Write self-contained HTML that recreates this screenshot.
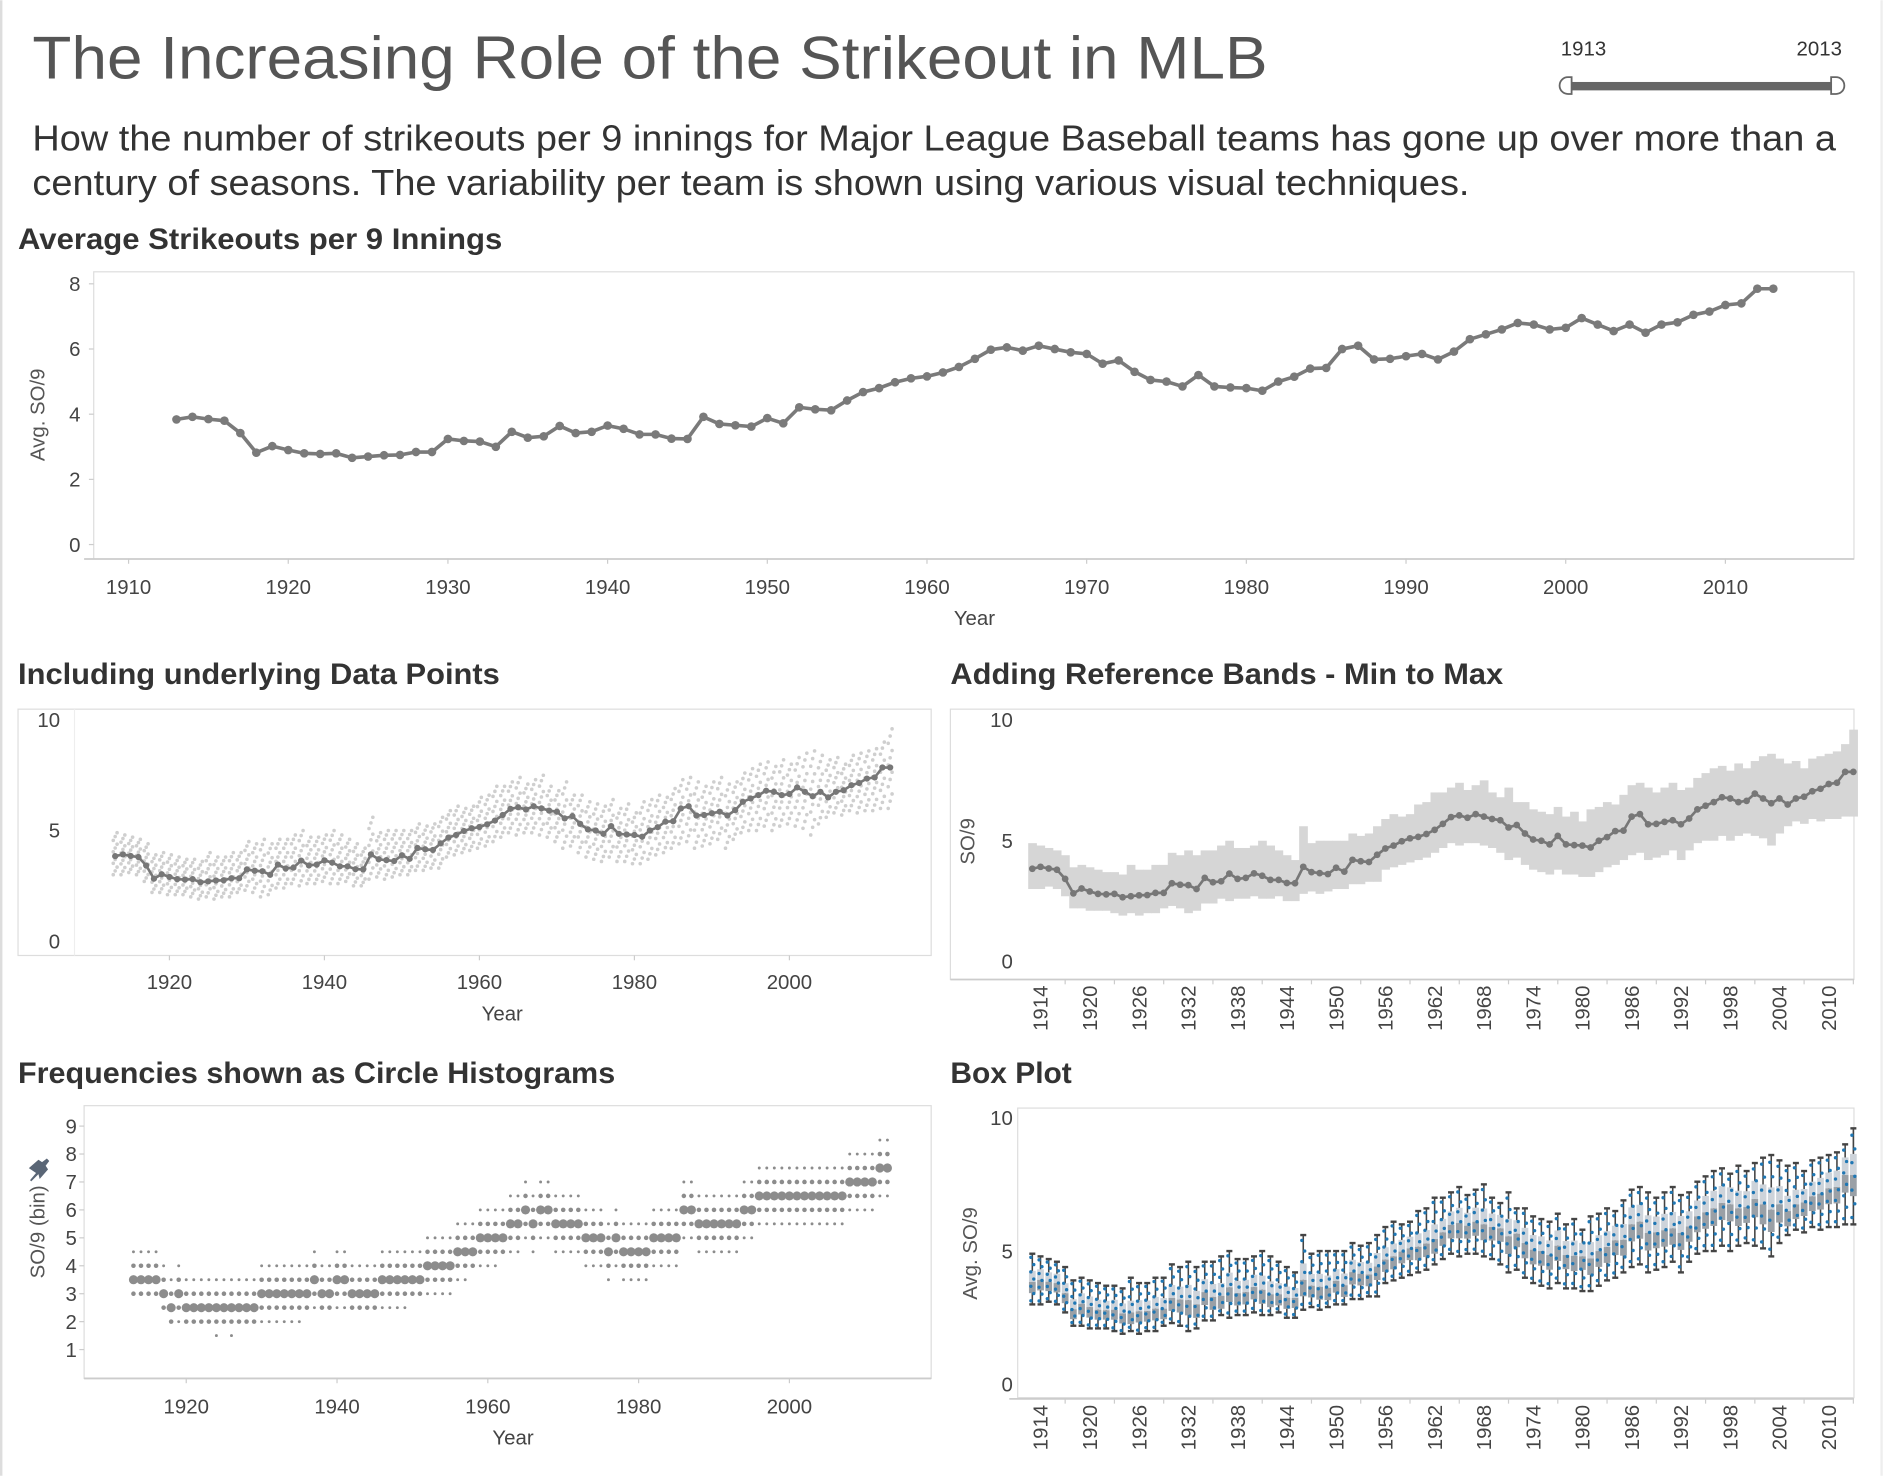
<!DOCTYPE html>
<html><head><meta charset="utf-8"><style>
html,body{margin:0;padding:0;background:#fff;}
svg{display:block;font-family:"Liberation Sans",sans-serif;}
</style></head><body>
<svg id="root" width="1884" height="1476" viewBox="0 0 1568 1228" xmlns="http://www.w3.org/2000/svg">
<line x1="1" y1="0" x2="1" y2="1228" stroke="#ddd" stroke-width="2"/>
<line x1="1566" y1="0" x2="1566" y2="1228" stroke="#eee" stroke-width="2"/>
<text x="27" y="65" font-size="50" fill="#555" textLength="1028" lengthAdjust="spacingAndGlyphs">The Increasing Role of the Strikeout in MLB</text>
<text x="27" y="125" font-size="30" fill="#333" textLength="1501" lengthAdjust="spacingAndGlyphs">How the number of strikeouts per 9 innings for Major League Baseball teams has gone up over more than a</text>
<text x="27" y="162" font-size="30" fill="#333" textLength="1196" lengthAdjust="spacingAndGlyphs">century of seasons. The variability per team is shown using various visual techniques.</text>
<g>
<text x="1299" y="46" font-size="17" fill="#333">1913</text>
<text x="1533" y="46" font-size="17" fill="#333" text-anchor="end">2013</text>
<rect x="1308" y="68" width="216" height="7" fill="#666"/>
<path d="M1308,64 L1305,64 A7,7 0 0 0 1305,78 L1308,78 Z" fill="#fff" stroke="#666" stroke-width="1.5"/>
<path d="M1524,64 L1528,64 A7,7 0 0 1 1528,78 L1524,78 Z" fill="#fff" stroke="#666" stroke-width="1.5"/>
</g>
<g font-weight="bold" font-size="25" fill="#333">
<text x="15" y="207" textLength="403" lengthAdjust="spacingAndGlyphs">Average Strikeouts per 9 Innings</text>
<text x="15" y="569" textLength="401" lengthAdjust="spacingAndGlyphs">Including underlying Data Points</text>
<text x="791" y="569" textLength="460" lengthAdjust="spacingAndGlyphs">Adding Reference Bands - Min to Max</text>
<text x="15" y="901" textLength="497" lengthAdjust="spacingAndGlyphs">Frequencies shown as Circle Histograms</text>
<text x="791" y="901" textLength="101" lengthAdjust="spacingAndGlyphs">Box Plot</text>
</g>
<g id="c1"></g>
<g id="c2"></g>
<g id="c3"></g>
<g id="c4"></g>
<g id="c5"></g>
<path d="M24,972 l8,-7 l3,2 l4,-3 l2,2 l-3,4 l2,3 l-7,8 l-1,-4 l-6,6 l-1,-1 l5,-6 z" fill="#5a6676"/>
</svg>
<script>
const years = [];
for (let y = 1913; y <= 2013; y++) years.push(y);
const avgSO9 = [3.84,3.92,3.85,3.8,3.42,2.82,3.02,2.9,2.8,2.78,2.8,2.66,2.7,2.74,2.75,2.84,2.84,3.24,3.18,3.16,3.0,3.46,3.28,3.32,3.64,3.42,3.46,3.65,3.55,3.38,3.38,3.25,3.24,3.92,3.7,3.66,3.62,3.88,3.72,4.21,4.15,4.12,4.42,4.68,4.8,4.98,5.1,5.16,5.28,5.45,5.7,5.98,6.05,5.95,6.1,6.0,5.9,5.85,5.55,5.65,5.3,5.05,5.0,4.85,5.2,4.85,4.82,4.8,4.72,5.0,5.15,5.4,5.42,6.0,6.1,5.68,5.7,5.78,5.85,5.68,5.92,6.3,6.45,6.6,6.8,6.75,6.6,6.65,6.95,6.75,6.55,6.75,6.5,6.75,6.82,7.05,7.15,7.35,7.4,7.85,7.85];
const maxSO9 = [4.9,4.8,4.7,4.6,4.4,3.9,4.0,3.9,3.8,3.7,3.7,3.6,4.0,3.8,3.8,4.0,4.0,4.5,4.4,4.6,4.4,4.6,4.6,4.8,5.0,4.7,4.7,4.8,5.0,4.8,4.6,4.4,4.2,5.6,4.9,5.0,5.0,5.0,5.0,5.3,5.2,5.3,5.6,5.9,6.1,6.0,6.1,6.5,6.6,7.0,7.0,7.2,7.4,7.1,7.3,7.5,7.0,6.8,7.2,6.6,6.6,6.3,6.2,6.1,6.4,6.0,6.2,5.8,6.3,6.4,6.6,6.5,6.9,7.3,7.4,7.2,7.0,7.2,7.4,7.1,7.2,7.6,7.8,8.0,8.1,7.9,8.2,8.0,8.3,8.5,8.6,8.4,8.2,8.3,8.0,8.4,8.5,8.6,8.7,9.0,9.6];
const minSO9 = [3.0,3.0,3.1,3.0,2.7,2.2,2.2,2.1,2.1,2.1,2.0,1.9,2.0,1.9,2.0,2.0,2.2,2.3,2.2,2.0,2.1,2.4,2.4,2.6,2.5,2.6,2.6,2.7,2.6,2.6,2.7,2.5,2.5,2.8,2.9,2.8,2.9,3.0,3.0,3.2,3.2,3.3,3.3,3.8,3.9,4.0,4.1,4.2,4.3,4.5,4.7,4.9,4.8,4.9,4.9,4.8,4.7,4.5,4.2,4.3,4.0,3.8,3.7,3.6,3.8,3.6,3.6,3.5,3.5,3.7,3.9,4.0,4.2,4.4,4.5,4.2,4.3,4.4,4.6,4.2,4.6,4.9,5.0,5.0,5.2,5.0,5.2,5.3,5.2,5.1,4.8,5.3,5.6,5.8,5.7,5.9,5.8,5.9,5.9,6.0,6.0];
const decadeTicks = [1910,1920,1930,1940,1950,1960,1970,1980,1990,2000,2010];
const twentyTicks = [1920,1940,1960,1980,2000];
const sixTicks = [1914,1920,1926,1932,1938,1944,1950,1956,1962,1968,1974,1980,1986,1992,1998,2004,2010];
const avgYTicks = [0,2,4,6,8];
const tenYTicks = [0,5,10];
const binYTicks = [1,2,3,4,5,6,7,8,9];

const NS = "http://www.w3.org/2000/svg";
function mk(parent, tag, attrs, text) {
  const el = document.createElementNS(NS, tag);
  for (const k in attrs) el.setAttribute(k, attrs[k]);
  if (text !== undefined) el.textContent = text;
  parent.appendChild(el);
  return el;
}
function lin(d0, d1, r0, r1) { return v => r0 + (v - d0) * (r1 - r0) / (d1 - d0); }
const TXT = "#444";

/* ---------- Chart 1: average line ---------- */
(function(){
  const g = document.getElementById('c1');
  const x = lin(1910, 2010, 107, 1436), y = lin(0, 8, 453, 236);
  let r = mk(g, 'rect', {x:78, y:226, width:1465, height:239, fill:'none', stroke:'#ddd'});
  
  
  let ax = mk(g, 'line', {x1:70, y1:465, x2:1543, y2:465, stroke:'#ccc', 'stroke-width':1.5});
  
  
  decadeTicks.forEach(t => {
    mk(g, 'line', {x1:x(t), y1:465, x2:x(t), y2:469, stroke:'#ccc'});
    const tl = mk(g, 'text', {x:x(t), y:494, 'font-size':17, fill:TXT, 'text-anchor':'middle'}, t);
    
    
  });
  avgYTicks.forEach(t => {
    mk(g, 'line', {x1:74, y1:y(t), x2:78, y2:y(t), stroke:'#ccc'});
    const tl = mk(g, 'text', {x:67, y:y(t)+6, 'font-size':17, fill:TXT, 'text-anchor':'end'}, t);
    
    
  });
  const xt = mk(g, 'text', {x:811, y:520, 'font-size':17, fill:TXT, 'text-anchor':'middle'}, 'Year');
  
  
  const yt = mk(g, 'text', {x:0, y:0, 'font-size':17, fill:'#555', 'text-anchor':'middle', transform:'translate(37,345) rotate(-90)'}, 'Avg. SO/9');
  
  
  const pts = years.map((yr,i) => x(yr).toFixed(1)+','+y(avgSO9[i]).toFixed(1)).join(' ');
  const pl = mk(g, 'polyline', {points:pts, fill:'none', stroke:'#7a7a7a', 'stroke-width':3});
  
  
  years.forEach((yr,i) => {
    const c = mk(g, 'circle', {cx:x(yr), cy:y(avgSO9[i]), r:3.6, fill:'#7a7a7a'});
    
    
  });
})();

/* ---------- Chart 2: underlying points ---------- */
(function(){
  const g = document.getElementById('c2');
  const x = lin(1920, 2000, 141, 657), y = lin(0, 10, 783, 599);
  let r = mk(g, 'rect', {x:15, y:590, width:760, height:205, fill:'none', stroke:'#ddd'});
  
  
  mk(g, 'line', {x1:62, y1:590, x2:62, y2:795, stroke:'#eee'});
  twentyTicks.forEach(t => {
    mk(g, 'line', {x1:x(t), y1:795, x2:x(t), y2:799, stroke:'#ccc'});
    const tl = mk(g, 'text', {x:x(t), y:823, 'font-size':17, fill:TXT, 'text-anchor':'middle'}, t);
    
    
  });
  tenYTicks.forEach(t => {
    const tl = mk(g, 'text', {x:50, y:y(t)+6, 'font-size':17, fill:TXT, 'text-anchor':'end'}, t);
    
    
  });
  const xt = mk(g, 'text', {x:418, y:849, 'font-size':17, fill:TXT, 'text-anchor':'middle'}, 'Year');
  
  
  const N = 12;
  years.forEach((yr,i) => {
    for (let k = 0; k < N; k++) {
      const v = minSO9[i] + (maxSO9[i]-minSO9[i]) * k/(N-1);
      const c = mk(g, 'circle', {cx:x(yr) + ((k*7)%3-1)*1.6, cy:y(v), r:1.5, fill:'#cfcfcf'});
      
      
    }
  });
  const pts = years.map((yr,i) => x(yr).toFixed(1)+','+y(avgSO9[i]).toFixed(1)).join(' ');
  const pl = mk(g, 'polyline', {points:pts, fill:'none', stroke:'#777', 'stroke-width':2.2});
  
  
  years.forEach((yr,i) => {
    const c = mk(g, 'circle', {cx:x(yr), cy:y(avgSO9[i]), r:2.6, fill:'#777'});
    
    
  });
})();

/* ---------- Chart 3: reference bands ---------- */
(function(){
  const g = document.getElementById('c3');
  const x = lin(1914, 2010, 866, 1522), y = lin(0, 10, 800, 599);
  const w = (1522-866)/96;
  let r = mk(g, 'rect', {x:791, y:590, width:752, height:225, fill:'none', stroke:'#ddd'});
  
  
  mk(g, 'line', {x1:791, y1:815, x2:1543, y2:815, stroke:'#ccc', 'stroke-width':1.5});
  years.forEach((yr,i) => {
    const b = mk(g, 'rect', {x:x(yr)-w/2, y:y(maxSO9[i]), width:w+0.4, height:y(minSO9[i])-y(maxSO9[i]), fill:'#d6d6d6'});
    
    
  });
  sixTicks.forEach(t => {
    mk(g, 'line', {x1:x(t)+3*w, y1:815, x2:x(t)+3*w, y2:819, stroke:'#ccc'});
    const tl = mk(g, 'text', {x:0, y:0, 'font-size':17, fill:TXT, 'text-anchor':'end', transform:`translate(${x(t)+6},820) rotate(-90)`}, t);
    
    
  });
  tenYTicks.forEach(t => {
    const tl = mk(g, 'text', {x:843, y:y(t)+6, 'font-size':17, fill:TXT, 'text-anchor':'end'}, t);
    
    
  });
  const yt = mk(g, 'text', {x:0, y:0, 'font-size':17, fill:'#555', 'text-anchor':'middle', transform:'translate(811,700) rotate(-90)'}, 'SO/9');
  
  
  const pts = years.map((yr,i) => x(yr).toFixed(1)+','+y(avgSO9[i]).toFixed(1)).join(' ');
  const pl = mk(g, 'polyline', {points:pts, fill:'none', stroke:'#777', 'stroke-width':2.2});
  
  
  years.forEach((yr,i) => {
    const c = mk(g, 'circle', {cx:x(yr), cy:y(avgSO9[i]), r:2.8, fill:'#777'});
    
    
  });
})();

/* ---------- Chart 4: circle histogram ---------- */
(function(){
  const g = document.getElementById('c4');
  const x = lin(1920, 2000, 155, 657), y = lin(1, 9, 1123, 937);
  let r = mk(g, 'rect', {x:70, y:920, width:705, height:227, fill:'none', stroke:'#ddd'});
  
  
  mk(g, 'line', {x1:70, y1:1147, x2:775, y2:1147, stroke:'#ccc', 'stroke-width':1.5});
  twentyTicks.forEach(t => {
    mk(g, 'line', {x1:x(t), y1:1147, x2:x(t), y2:1151, stroke:'#ccc'});
    const tl = mk(g, 'text', {x:x(t), y:1176, 'font-size':17, fill:TXT, 'text-anchor':'middle'}, t);
    
    
  });
  binYTicks.forEach(t => {
    mk(g, 'line', {x1:66, y1:y(t), x2:70, y2:y(t), stroke:'#ccc'});
    const tl = mk(g, 'text', {x:64, y:y(t)+6, 'font-size':17, fill:TXT, 'text-anchor':'end'}, t);
    
    
  });
  const xt = mk(g, 'text', {x:427, y:1202, 'font-size':17, fill:TXT, 'text-anchor':'middle'}, 'Year');
  
  
  const yt = mk(g, 'text', {x:0, y:0, 'font-size':17, fill:'#555', 'text-anchor':'middle', transform:'translate(37,1025) rotate(-90)'}, 'SO/9 (bin)');
  
  
  years.forEach((yr,i) => {
    const m = avgSO9[i];
    const mb = Math.floor(m*2)/2;
    const lo = Math.max(Math.floor(minSO9[i]*2)/2, mb - 1);
    const hi = Math.min(Math.floor(maxSO9[i]*2)/2, mb + 1);
    for (let b = lo; b <= hi + 0.01; b += 0.5) {
      const d = Math.abs(b - mb);
      const rad = d < 0.1 ? 3.8 : (d < 0.6 ? 1.9 : 1.2);
      const c = mk(g, 'circle', {cx:x(yr), cy:y(b), r:rad, fill:'#8c8c8c'});
      
      
    }
  });
})();

/* ---------- Chart 5: box plot ---------- */
(function(){
  const g = document.getElementById('c5');
  const x = lin(1914, 2010, 866, 1522), y = lin(0, 10, 1152, 930);
  const w = (1522-866)/96;
  let r = mk(g, 'rect', {x:847, y:922, width:696, height:241, fill:'none', stroke:'#ddd'});
  
  
  mk(g, 'line', {x1:840, y1:1164, x2:1543, y2:1164, stroke:'#ccc', 'stroke-width':1.5});
  sixTicks.forEach(t => {
    mk(g, 'line', {x1:x(t)+3*w, y1:1164, x2:x(t)+3*w, y2:1168, stroke:'#ccc'});
    const tl = mk(g, 'text', {x:0, y:0, 'font-size':17, fill:TXT, 'text-anchor':'end', transform:`translate(${x(t)+6},1169) rotate(-90)`}, t);
    
    
  });
  tenYTicks.forEach(t => {
    const tl = mk(g, 'text', {x:843, y:y(t)+6, 'font-size':17, fill:TXT, 'text-anchor':'end'}, t);
    
    
  });
  const yt = mk(g, 'text', {x:0, y:0, 'font-size':17, fill:'#555', 'text-anchor':'middle', transform:'translate(813,1043) rotate(-90)'}, 'Avg. SO/9');
  
  
  years.forEach((yr,i) => {
    const cx = x(yr), mn = minSO9[i], mx = maxSO9[i], m = avgSO9[i], sp = mx - mn;
    const q1 = m - sp*0.22, q3 = m + sp*0.22;
    const wl = mk(g, 'line', {x1:cx, y1:y(mx), x2:cx, y2:y(mn), stroke:'#444', 'stroke-width':1.3});
    
    
    mk(g, 'line', {x1:cx-2.5, y1:y(mx), x2:cx+2.5, y2:y(mx), stroke:'#444', 'stroke-width':2});
    mk(g, 'line', {x1:cx-2.5, y1:y(mn), x2:cx+2.5, y2:y(mn), stroke:'#444', 'stroke-width':2});
    const b1 = mk(g, 'rect', {x:cx-2.8, y:y(q3), width:5.6, height:y(m)-y(q3), fill:'#cdd3da'});
    
    
    const b2 = mk(g, 'rect', {x:cx-2.8, y:y(m), width:5.6, height:y(q1)-y(m), fill:'#9aa0a6'});
    
    
    for (let k = 0; k < 7; k++) {
      const v = mn + sp*(k+0.5)/7;
      const c = mk(g, 'circle', {cx:cx+(k%2?1.2:-1.2), cy:y(v), r:1.4, fill:'#1f77b4'});
      
      
    }
  });
})();
</script>
</body></html>
